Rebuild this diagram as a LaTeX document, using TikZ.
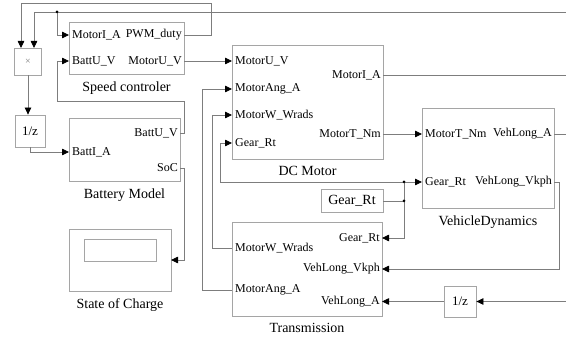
\documentclass[tikz,border=0pt]{standalone}
\usepackage{fontspec}
\setmainfont{Liberation Serif}
\usetikzlibrary{arrows.meta,positioning}
\definecolor{WireGray}{RGB}{125,125,125}
\definecolor{BoxGray}{RGB}{165,165,165}

\begin{document}
\begin{tikzpicture}[x=1pt,y=-1pt,
    block/.style={draw=BoxGray,line width=0.8pt,inner sep=0pt},
    port/.style={font=\fontsize{12}{12}\selectfont,inner sep=1pt},
    blocklabel/.style={font=\fontsize{14}{14}\selectfont,inner sep=1pt},
    wire/.style={draw=WireGray,line width=0.8pt},
    sig/.style={wire,-{Triangle[length=7pt,width=6.5pt,color=black]}}]
  \useasboundingbox (0,0) rectangle (566,339);
  % blocks
  \node[block,minimum width=27pt,minimum height=27pt,text=WireGray,font=\fontsize{10}{10}\selectfont] (mul) at (28,61.5) {×};
  \node[block,minimum width=30pt,minimum height=32pt,font=\fontsize{13}{13}\selectfont] (zA) at (30,131) {1/z};
  \node[block,minimum width=115pt,minimum height=52pt] (spc) at (126.5,48) {};
  \node[block,minimum width=111pt,minimum height=63pt] (bat) at (124.5,149.5) {};
  \node[block,minimum width=102pt,minimum height=62pt] (soc) at (120,260) {};
  \draw[BoxGray,line width=0.8pt] (84,239) rectangle (156,261);
  \node[block,minimum width=151pt,minimum height=114pt] (dcm) at (307.5,102) {};
  \node[block,minimum width=132pt,minimum height=100pt] (veh) at (488,158) {};
  \node[block,minimum width=62pt,minimum height=23pt,font=\fontsize{14}{14}\selectfont] (gear) at (352,201) {Gear\_Rt};
  \node[block,minimum width=150pt,minimum height=94pt] (trn) at (307,269) {};
  \node[block,minimum width=32pt,minimum height=31pt,font=\fontsize{13}{13}\selectfont] (zB) at (460,301.5) {1/z};

  % block names
  \node[blocklabel,below=6pt of spc] (spcL) {Speed controler};
  \node[blocklabel,below=6pt of bat] (batL) {Battery Model};
  \node[blocklabel,below=6pt of soc] (socL) {State of Charge};
  \node[blocklabel,below=6pt of dcm] (dcmL) {DC Motor};
  \node[blocklabel,below=6pt of veh] (vehL) {VehicleDynamics};
  \node[blocklabel,below=6pt of trn] (trnL) {Transmission};

  % ports
  \coordinate (mulIn1) at (21,48);
  \coordinate (mulIn2) at (34,48);
  \coordinate (spcIn1) at (69,35);
  \coordinate (spcIn2) at (69,61);
  \coordinate (spcOut1) at (184,35);
  \coordinate (spcOut2) at (184,61);
  \coordinate (batIn1) at (69,152);
  \coordinate (batOut1) at (180,133);
  \coordinate (batOut2) at (180,168);
  \coordinate (socIn) at (171,260);
  \coordinate (dcmIn1) at (232,61);
  \coordinate (dcmIn2) at (232,89);
  \coordinate (dcmIn3) at (232,115);
  \coordinate (dcmIn4) at (232,143);
  \coordinate (dcmOut1) at (383,75);
  \coordinate (dcmOut2) at (383,134);
  \coordinate (vehIn1) at (422,134);
  \coordinate (vehIn2) at (422,182);
  \coordinate (vehOut1) at (554,134);
  \coordinate (vehOut2) at (554,182);
  \coordinate (trnIn1) at (382,238);
  \coordinate (trnIn2) at (382,269);
  \coordinate (trnIn3) at (382,301.5);
  \coordinate (trnOut1) at (232,248);
  \coordinate (trnOut2) at (232,290);
  % free ends at the right border
  \coordinate (edgeA) at (566,12);
  \coordinate (edgeB) at (566,75);
  \coordinate (edgeC) at (566,134);
  \coordinate (edgeD) at (566,301.5);
  % branch points
  \coordinate (jA) at (57,12);
  \coordinate (jB) at (404,201);
  \coordinate (jC) at (404,182);

  \node[port,anchor=west,xshift=2pt] (spcIn1L) at (spcIn1) {MotorI\_A};
  \node[port,anchor=west,xshift=2pt] (spcIn2L) at (spcIn2) {BattU\_V};
  \node[port,anchor=east,xshift=-1pt] (spcOut1L) at (spcOut1) {PWM\_duty};
  \node[port,anchor=east,xshift=-1pt] (spcOut2L) at (spcOut2) {MotorU\_V};
  \node[port,anchor=west,xshift=2pt] (batIn1L) at (batIn1) {BattI\_A};
  \node[port,anchor=east,xshift=-1pt] (batOut1L) at (batOut1) {BattU\_V};
  \node[port,anchor=east,xshift=-1pt] (batOut2L) at (batOut2) {SoC};
  \node[port,anchor=west,xshift=2pt] (dcmIn1L) at (dcmIn1) {MotorU\_V};
  \node[port,anchor=west,xshift=2pt] (dcmIn2L) at (dcmIn2) {MotorAng\_A};
  \node[port,anchor=west,xshift=2pt] (dcmIn3L) at (dcmIn3) {MotorW\_Wrads};
  \node[port,anchor=west,xshift=2pt] (dcmIn4L) at (dcmIn4) {Gear\_Rt};
  \node[port,anchor=east,xshift=-1pt] (dcmOut1L) at (dcmOut1) {MotorI\_A};
  \node[port,anchor=east,xshift=-1pt] (dcmOut2L) at (dcmOut2) {MotorT\_Nm};
  \node[port,anchor=west,xshift=2pt] (vehIn1L) at (vehIn1) {MotorT\_Nm};
  \node[port,anchor=west,xshift=2pt] (vehIn2L) at (vehIn2) {Gear\_Rt};
  \node[port,anchor=east,xshift=-1pt] (vehOut1L) at (vehOut1) {VehLong\_A};
  \node[port,anchor=east,xshift=-1pt] (vehOut2L) at (vehOut2) {VehLong\_Vkph};
  \node[port,anchor=east,xshift=-1pt] (trnIn1L) at (trnIn1) {Gear\_Rt};
  \node[port,anchor=east,xshift=-1pt] (trnIn2L) at (trnIn2) {VehLong\_Vkph};
  \node[port,anchor=east,xshift=-1pt] (trnIn3L) at (trnIn3) {VehLong\_A};
  \node[port,anchor=west,xshift=2pt] (trnOut1L) at (trnOut1) {MotorW\_Wrads};
  \node[port,anchor=west,xshift=2pt] (trnOut2L) at (trnOut2) {MotorAng\_A};

  % signals
  \draw[sig] (spcOut1) -| (211,3) -| (mulIn1);
  \draw[sig] (edgeA) -| (mulIn2);
  \draw[sig] (jA) |- (spcIn1);
  \draw[sig] (mul.south) -- (mul.south |- zA.north);
  \draw[sig] (zA.south) |- (batIn1);
  \draw[sig] (batOut1) -| (184,101) -| (57,61) -- (spcIn2);
  \draw[sig] (batOut2) -| (184,260) -- (socIn);
  \draw[sig] (spcOut2) -- (dcmIn1);
  \draw[sig] (trnOut2) -- (202,290) |- (dcmIn2);
  \draw[sig] (trnOut1) -- (212,248) |- (dcmIn3);
  \draw[wire] (gear.east) -- (jB) -- (jC);
  \draw[sig] (jC) -- (vehIn2);
  \draw[sig] (jC) -- (220,182) |- (dcmIn4);
  \draw[sig] (jB) |- (trnIn1);
  \draw[wire] (dcmOut1) -- (edgeB);
  \draw[sig] (dcmOut2) -- (vehIn1);
  \draw[wire] (vehOut1) -- (edgeC);
  \draw[sig] (vehOut2) -- (559,182) |- (trnIn2);
  \draw[sig] (edgeD) -- (zB.east);
  \draw[sig] (zB.west) -- (trnIn3);
  \fill (jA) circle (1.5pt);
  \fill (jB) circle (1.5pt);
  \fill (jC) circle (1.5pt);
\end{tikzpicture}
\end{document}
